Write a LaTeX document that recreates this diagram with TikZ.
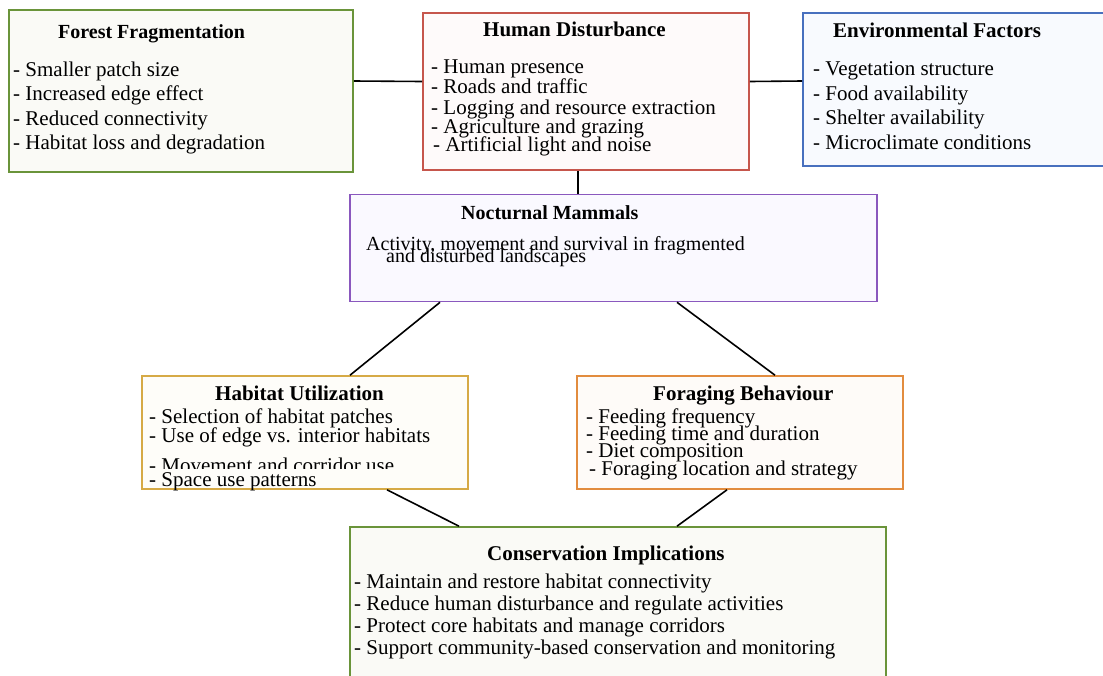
\documentclass[tikz,border=0pt]{standalone}
\usepackage{fontspec}
\setmainfont{Liberation Serif}
\usetikzlibrary{calc}

\definecolor{ffgreen}{RGB}{106,148,58}
\definecolor{hdred}{RGB}{198,86,76}
\definecolor{efblue}{RGB}{72,112,190}
\definecolor{nmpurple}{RGB}{138,88,190}
\definecolor{hugold}{RGB}{214,170,70}
\definecolor{fborange}{RGB}{226,140,62}
\definecolor{fffill}{RGB}{250,250,246}
\definecolor{hdfill}{RGB}{254,250,250}
\definecolor{effill}{RGB}{248,250,254}
\definecolor{nmfill}{RGB}{250,249,255}
\definecolor{hufill}{RGB}{254,253,249}
\definecolor{fbfill}{RGB}{254,251,248}

\begin{document}
\begin{tikzpicture}[x=1pt,y=-1pt]
    \tikzstyle{box}=[rectangle,draw,line width=1.6pt,inner sep=0pt]
    \tikzstyle{head}=[anchor=base west,inner sep=0pt,font=\fontsize{21}{25}\selectfont\bfseries]
    \tikzstyle{item}=[anchor=base west,inner sep=0pt,font=\fontsize{21}{25}\selectfont]
    \tikzstyle{link}=[line width=1.6pt,draw=black]
    \useasboundingbox (0,0) rectangle (1103,675);

    \node (ff)[box,draw=ffgreen,fill=fffill,minimum width=344pt,minimum height=162pt] at (181,91) {};
    \node (hd)[box,draw=hdred,fill=hdfill,minimum width=326pt,minimum height=157pt] at (586,91.5) {};
    \node (ef)[box,draw=efblue,fill=effill,minimum width=326pt,minimum height=153pt] at (966,89.5) {};
    \node (nm)[box,draw=nmpurple,fill=nmfill,minimum width=527pt,minimum height=107pt] at (613.5,248) {};
    \node (hu)[box,draw=hugold,fill=hufill,minimum width=326pt,minimum height=113pt] at (305,432.5) {};
    \node (fb)[box,draw=fborange,fill=fbfill,minimum width=326pt,minimum height=113pt] at (740,432.5) {};
    \node (ci)[box,draw=ffgreen,fill=fffill,minimum width=536pt,minimum height=160pt] at (618,607) {};

    \node (ffh)[head,font=\fontsize{20}{24}\selectfont\bfseries] at (58,38) {Forest Fragmentation};
    \node (ff1)[item] at (13,76) {- Smaller patch size};
    \node (ff2)[item] at (13,100) {- Increased edge effect};
    \node (ff3)[item] at (13,125) {- Reduced connectivity};
    \node (ff4)[item] at (13,149) {- Habitat loss and degradation};

    \node (hdh)[head] at (483,36) {Human Disturbance};
    \node (hd1)[item] at (431,73) {- Human presence};
    \node (hd2)[item] at (431,93) {- Roads and traffic};
    \node (hd3)[item] at (431,114) {- Logging and resource extraction};
    \node (hd4)[item] at (431,133) {- Agriculture and grazing};
    \node (hd5)[item] at (433,151) {- Artificial light and noise};

    \node (efh)[head] at (833,37) {Environmental Factors};
    \node (ef1)[item] at (813,75) {- Vegetation structure};
    \node (ef2)[item] at (813,100) {- Food availability};
    \node (ef3)[item] at (813,124) {- Shelter availability};
    \node (ef4)[item] at (813,149) {- Microclimate conditions};

    \node (nmh)[head,font=\fontsize{20}{24}\selectfont\bfseries] at (461,219) {Nocturnal Mammals};
    \node (nm1)[item,font=\fontsize{20}{24}\selectfont] at (366,250) {Activity, movement and survival in fragmented};
    \node (nm2)[item,font=\fontsize{20}{24}\selectfont] at (386,262) {and disturbed landscapes};

    \node (huh)[head] at (215,400) {Habitat Utilization};
    \node (hu1)[item] at (149,423) {- Selection of habitat patches};
    \node (hu2)[item] at (149,442) {- Use of edge vs. interior habitats};
    \node (hu3)[item] at (149,472) {- Movement and corridor use};
    \fill[hufill] (146,469) rectangle (464,488);
    \node (hu4)[item] at (149,486) {- Space use patterns};

    \node (fbh)[head] at (653,400) {Foraging Behaviour};
    \node (fb1)[item] at (586,423) {- Feeding frequency};
    \node (fb2)[item] at (586,440) {- Feeding time and duration};
    \node (fb3)[item] at (586,457) {- Diet composition};
    \node (fb4)[item] at (589,475) {- Foraging location and strategy};

    \node (cih)[head] at (487,560) {Conservation Implications};
    \node (ci1)[item] at (354,588) {- Maintain and restore habitat connectivity};
    \node (ci2)[item] at (354,610) {- Reduce human disturbance and regulate activities};
    \node (ci3)[item] at (354,632) {- Protect core habitats and manage corridors};
    \node (ci4)[item] at (354,654) {- Support community-based conservation and monitoring};

    \draw[link] ([yshift=10pt]ff.east) -- ([yshift=10pt]hd.west);
    \draw[link] ([yshift=10pt]hd.east) -- ([yshift=8.5pt]ef.west);
    \draw[link] ([xshift=-8pt]hd.south) -- ([xshift=-8pt]hd.south |- nm.north);
    \draw[link] ([xshift=-173.5pt]nm.south) -- ([xshift=45pt]hu.north);
    \draw[link] ([xshift=63.5pt]nm.south) -- ([xshift=35pt]fb.north);
    \draw[link] ([xshift=82pt]hu.south) -- ([xshift=-159pt]ci.north);
    \draw[link] ([xshift=-13pt]fb.south) -- ([xshift=59pt]ci.north);
\end{tikzpicture}
\end{document}
